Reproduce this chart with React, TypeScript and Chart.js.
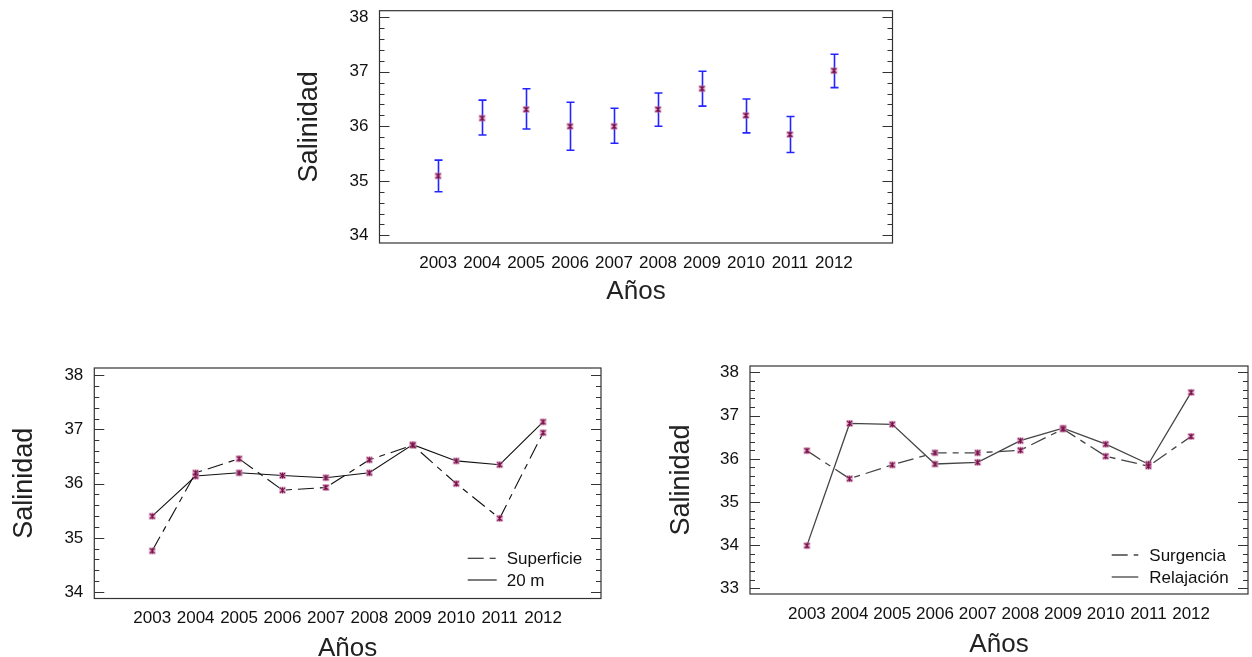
import React, { useEffect, useRef } from "react";
import { Chart, registerables } from "chart.js";
Chart.register(...registerables);

// ---------- data ----------
const years = [2003, 2004, 2005, 2006, 2007, 2008, 2009, 2010, 2011, 2012];
const xMin = 2001.667;
const xMax = 2013.333;
const yTicks4 = [34, 35, 36, 37, 38];
const yTicks5 = [33, 34, 35, 36, 37, 38];
const minorStep = 0.2;

// top chart: means and intervals
const meanSal = [35.09, 36.15, 36.31, 36.0, 36.0, 36.31, 36.69, 36.2, 35.85, 37.02];
const lowSal = [34.8, 35.84, 35.95, 35.56, 35.69, 36.0, 36.37, 35.88, 35.52, 36.71];
const highSal = [35.38, 36.48, 36.69, 36.44, 36.33, 36.61, 37.01, 36.5, 36.18, 37.32];

// bottom-left
const superficie = [34.76, 36.2, 36.46, 35.88, 35.93, 36.44, 36.71, 36.0, 35.36, 36.94];
const veinteM = [35.4, 36.14, 36.2, 36.15, 36.11, 36.2, 36.72, 36.42, 36.35, 37.14];

// bottom-right
const surgencia = [36.19, 35.54, 35.86, 36.14, 36.14, 36.2, 36.69, 36.06, 35.83, 36.52];
const relajacion = [33.99, 36.82, 36.8, 35.88, 35.92, 36.42, 36.71, 36.34, 35.88, 37.54];

const FONT = "'Liberation Sans', Arial, sans-serif";
const DASH = [16, 6, 6, 6];

function makeMarker(): HTMLCanvasElement {
  const c = document.createElement("canvas");
  c.width = 9;
  c.height = 9;
  const g = c.getContext("2d")!;
  g.fillStyle = "rgba(215,150,185,0.55)";
  g.fillRect(1, 1, 7, 7);
  g.strokeStyle = "#7a0a48";
  g.lineWidth = 1.2;
  g.beginPath();
  g.moveTo(2, 2);
  g.lineTo(7, 7);
  g.moveTo(7, 2);
  g.lineTo(2, 7);
  g.moveTo(4.5, 1.5);
  g.lineTo(4.5, 7.5);
  g.stroke();
  return c;
}

const framePlugin = {
  id: "frameTicks",
  beforeDatasetsDraw(chart: any) {
    const { ctx, chartArea } = chart;
    const y = chart.scales.y;
    ctx.save();
    ctx.strokeStyle = "#333";
    ctx.lineWidth = 1.2;
    ctx.strokeRect(chartArea.left, chartArea.top, chartArea.right - chartArea.left, chartArea.bottom - chartArea.top);
    const k0 = Math.ceil(y.min / minorStep - 1e-6);
    const k1 = Math.floor(y.max / minorStep + 1e-6);
    ctx.lineWidth = 1;
    for (let k = k0; k <= k1; k++) {
      const v = k * minorStep;
      const major = k % 5 === 0;
      const len = major ? 10 : 5;
      const py = Math.round(y.getPixelForValue(v)) + 0.5;
      ctx.beginPath();
      ctx.moveTo(chartArea.left, py);
      ctx.lineTo(chartArea.left + len, py);
      ctx.moveTo(chartArea.right, py);
      ctx.lineTo(chartArea.right - len, py);
      ctx.stroke();
    }
    ctx.restore();
  },
};

const errorBarPlugin = {
  id: "errbars",
  beforeDatasetsDraw(chart: any, _args: any, opts: any) {
    if (!opts || !opts.low) return;
    const { ctx } = chart;
    const x = chart.scales.x;
    const y = chart.scales.y;
    ctx.save();
    ctx.strokeStyle = opts.color;
    ctx.lineWidth = opts.width;
    opts.xs.forEach((xv: number, i: number) => {
      const px = Math.round(x.getPixelForValue(xv)) + 0.5;
      const p1 = y.getPixelForValue(opts.low[i]);
      const p2 = y.getPixelForValue(opts.high[i]);
      ctx.beginPath();
      ctx.moveTo(px, p1);
      ctx.lineTo(px, p2);
      ctx.moveTo(px - opts.cap, p1);
      ctx.lineTo(px + opts.cap, p1);
      ctx.moveTo(px - opts.cap, p2);
      ctx.lineTo(px + opts.cap, p2);
      ctx.stroke();
    });
    ctx.restore();
  },
};

const legendPlugin = {
  id: "innerLegend",
  afterDatasetsDraw(chart: any, _args: any, opts: any) {
    if (!opts || !opts.show) return;
    const { ctx, chartArea } = chart;
    ctx.save();
    ctx.font = `17px ${FONT}`;
    ctx.textBaseline = "middle";
    chart.data.datasets.forEach((ds: any, i: number) => {
      const yy = chartArea.bottom - opts.rows[i];
      const x0 = chartArea.right - opts.sampleFromRight;
      ctx.strokeStyle = ds.borderColor;
      ctx.lineWidth = ds.borderWidth;
      ctx.setLineDash(ds.borderDash || []);
      ctx.beginPath();
      ctx.moveTo(x0, yy);
      ctx.lineTo(x0 + opts.sampleLen, yy);
      ctx.stroke();
      ctx.setLineDash([]);
      ctx.fillStyle = "#111";
      ctx.fillText(ds.label, chartArea.right - opts.textFromRight, yy + 1);
    });
    ctx.restore();
  },
};

type Cfg = {
  left: number;
  top: number;
  width: number;
  height: number;
  padTop: number;
  padRight: number;
  yWidth: number;
  xHeight: number;
  yMin: number;
  yMax: number;
  yTicks: number[];
  yTitlePad: number;
  xTitlePad: number;
  kind: "err" | "lines";
  series: { label: string; values: number[]; dashed: boolean; color: string; width: number }[];
  legend?: { sampleFromRight: number; sampleLen: number; textFromRight: number; rows: number[] };
};

function SalChart({ cfg }: { cfg: Cfg }) {
  const ref = useRef<HTMLCanvasElement>(null);
  useEffect(() => {
    const marker = makeMarker();
    const datasets = cfg.series.map((s) => ({
      label: s.label,
      data: years.map((yr, i) => ({ x: yr, y: s.values[i] })),
      showLine: cfg.kind === "lines",
      borderColor: s.color,
      borderWidth: s.width,
      borderDash: s.dashed ? DASH : [],
      pointStyle: marker as any,
      pointRadius: 4,
      pointHoverRadius: 4,
      tension: 0,
      fill: false,
    }));
    const chart = new Chart(ref.current!, {
      type: "scatter",
      data: { datasets },
      plugins: [framePlugin, errorBarPlugin, legendPlugin],
      options: {
        animation: false,
        responsive: false,
        devicePixelRatio: 1,
        events: [],
        layout: { autoPadding: false, padding: { left: 0, top: cfg.padTop, right: cfg.padRight, bottom: 0 } },
        scales: {
          x: {
            type: "linear",
            min: xMin,
            max: xMax,
            afterBuildTicks: (s: any) => {
              s.ticks = years.map((v) => ({ value: v }));
            },
            afterFit: (s: any) => {
              s.height = cfg.xHeight;
              s.paddingLeft = 0;
              s.paddingRight = 0;
            },
            grid: { display: false, drawTicks: false },
            border: { display: false },
            ticks: {
              padding: 10,
              color: "#111",
              font: { family: FONT, size: 17 },
              maxRotation: 0,
              autoSkip: false,
              callback: (v: any) => String(v),
            },
            title: {
              display: true,
              text: "Años",
              color: "#222",
              font: { family: FONT, size: 26 },
              padding: { top: 0, bottom: cfg.xTitlePad },
            },
          },
          y: {
            type: "linear",
            min: cfg.yMin,
            max: cfg.yMax,
            afterBuildTicks: (s: any) => {
              s.ticks = cfg.yTicks.map((v) => ({ value: v }));
            },
            afterFit: (s: any) => {
              s.width = cfg.yWidth;
              s.paddingTop = 0;
              s.paddingBottom = 0;
            },
            grid: { display: false, drawTicks: false },
            border: { display: false },
            ticks: {
              padding: 11,
              color: "#111",
              font: { family: FONT, size: 17 },
              callback: (v: any) => String(v),
            },
            title: {
              display: true,
              text: "Salinidad",
              color: "#222",
              font: { family: FONT, size: 27 },
              padding: { top: cfg.yTitlePad, bottom: 0 },
            },
          },
        },
        plugins: {
          legend: { display: false },
          tooltip: { enabled: false },
          errbars:
            cfg.kind === "err"
              ? { xs: years, low: lowSal, high: highSal, color: "#2424ff", width: 1.6, cap: 4 }
              : {},
          innerLegend: cfg.legend ? { show: true, ...cfg.legend } : { show: false },
        } as any,
      },
    });
    return () => chart.destroy();
  }, [cfg]);
  return (
    <canvas
      ref={ref}
      width={cfg.width}
      height={cfg.height}
      style={{ position: "absolute", left: cfg.left, top: cfg.top, width: cfg.width, height: cfg.height }}
    />
  );
}

const topCfg: Cfg = {
  left: 280,
  top: 0,
  width: 640,
  height: 320,
  padTop: 10.7,
  padRight: 27.5,
  yWidth: 99.5,
  xHeight: 77,
  yMin: 33.86,
  yMax: 38.12,
  yTicks: yTicks4,
  yTitlePad: 13,
  xTitlePad: 13,
  kind: "err",
  series: [{ label: "Salinidad", values: meanSal, dashed: false, color: "#7a0a48", width: 1 }],
};

const leftCfg: Cfg = {
  left: 0,
  top: 340,
  width: 640,
  height: 317,
  padTop: 28,
  padRight: 39,
  yWidth: 94.3,
  xHeight: 58.5,
  yMin: 33.88,
  yMax: 38.135,
  yTicks: yTicks4,
  yTitlePad: 8.5,
  xTitlePad: -7,
  kind: "lines",
  series: [
    { label: "Superficie", values: superficie, dashed: true, color: "#111", width: 1.1 },
    { label: "20 m", values: veinteM, dashed: false, color: "#111", width: 1.1 },
  ],
  legend: { sampleFromRight: 133.3, sampleLen: 29, textFromRight: 94.3, rows: [40.2, 18.5] },
};

const rightCfg: Cfg = {
  left: 640,
  top: 340,
  width: 612,
  height: 317,
  padTop: 26,
  padRight: 4,
  yWidth: 110,
  xHeight: 63,
  yMin: 32.87,
  yMax: 38.15,
  yTicks: yTicks5,
  yTitlePad: 25.4,
  xTitlePad: -3,
  kind: "lines",
  series: [
    { label: "Surgencia", values: surgencia, dashed: true, color: "#444", width: 1.3 },
    { label: "Relajación", values: relajacion, dashed: false, color: "#444", width: 1.3 },
  ],
  legend: { sampleFromRight: 136.3, sampleLen: 26.6, textFromRight: 98.7, rows: [39, 17] },
};

export default function App() {
  return (
    <div
      style={{
        position: "fixed",
        left: 0,
        top: 0,
        width: 1252,
        height: 657,
        background: "#fff",
        overflow: "hidden",
      }}
    >
      <SalChart cfg={topCfg} />
      <SalChart cfg={leftCfg} />
      <SalChart cfg={rightCfg} />
    </div>
  );
}
